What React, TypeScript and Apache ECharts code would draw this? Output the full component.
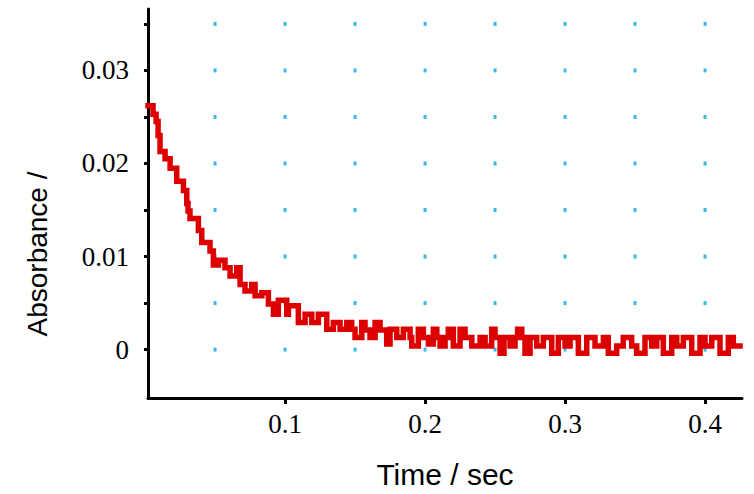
import React, { useEffect, useRef } from "react";
import * as echarts from "echarts";

// Time (s) at which each step of the trace begins
const times = [
  0.0021, 0.0057, 0.0079, 0.0093, 0.0107, 0.0143, 0.0179, 0.0226, 0.0274, 0.0298,
  0.0307, 0.0321, 0.0381, 0.0405, 0.0464, 0.0488, 0.0524, 0.0571, 0.0607, 0.0655,
  0.0679, 0.0714, 0.0762, 0.0786, 0.0834, 0.0881, 0.0917, 0.0952, 0.1012, 0.1024,
  0.1095, 0.1143, 0.1191, 0.1238, 0.1298, 0.1345, 0.1393, 0.1441, 0.1476, 0.1500,
  0.1548, 0.1571, 0.1607, 0.1643, 0.1679, 0.1726, 0.1750, 0.1798, 0.1845, 0.1893,
  0.1905, 0.1952, 0.1988, 0.2024, 0.2059, 0.2084, 0.2107, 0.2143, 0.2166, 0.2202,
  0.2250, 0.2286, 0.2334, 0.2393, 0.2429, 0.2476, 0.2500, 0.2536, 0.2564, 0.2607,
  0.2643, 0.2661, 0.2691, 0.2714, 0.2750, 0.2798, 0.2845, 0.2905, 0.2952, 0.3000,
  0.3036, 0.3095, 0.3155, 0.3214, 0.3274, 0.3309, 0.3369, 0.3416, 0.3476, 0.3512,
  0.3571, 0.3619, 0.3655, 0.3702, 0.3762, 0.3798, 0.3845, 0.3905, 0.3964, 0.4000,
  0.4048, 0.4107, 0.4166, 0.4202, 0.4250,
];

// Absorbance of each step
const absorbance = [
  0.0262, 0.0253, 0.0245, 0.0230, 0.0213, 0.0205, 0.0195, 0.0181, 0.0171, 0.0157,
  0.0149, 0.0141, 0.0128, 0.0115, 0.0106, 0.0091, 0.0096, 0.0088, 0.0079, 0.0088,
  0.0070, 0.0063, 0.0070, 0.0058, 0.0061, 0.0049, 0.0038, 0.0053, 0.0038, 0.0047,
  0.0029, 0.0038, 0.0029, 0.0038, 0.0022, 0.0029, 0.0022, 0.0029, 0.0022, 0.0013,
  0.0029, 0.0021, 0.0013, 0.0029, 0.0021, 0.0006, 0.0022, 0.0013, 0.0022, 0.0013,
  0.0004, 0.0022, 0.0013, 0.0006, 0.0022, 0.0013, 0.0004, 0.0013, 0.0022, 0.0004,
  0.0022, 0.0013, 0.0004, 0.0013, 0.0004, 0.0022, 0.0013, -0.0004, 0.0013, 0.0004,
  0.0013, 0.0022, 0.0013, -0.0004, 0.0013, 0.0004, 0.0013, -0.0004, 0.0013, 0.0004,
  0.0013, -0.0004, 0.0013, 0.0004, 0.0013, -0.0004, 0.0004, 0.0013, 0.0004, -0.0004,
  0.0013, 0.0004, 0.0013, -0.0004, 0.0013, 0.0004, 0.0013, -0.0004, 0.0013, 0.0004,
  0.0013, -0.0004, 0.0013, 0.0004, 0.0004,
];

// Axis ticks / labels
const xTickValues = [0.1, 0.2, 0.3, 0.4];
const yTickValues = [0, 0.005, 0.01, 0.015, 0.02, 0.025, 0.03, 0.035];
const yLabelValues = [0, 0.01, 0.02, 0.03];

// Dotted grid positions
const gridDotTimes = [0.05, 0.1, 0.15, 0.2, 0.25, 0.3, 0.35, 0.4];
const gridDotAbs = [0, 0.005, 0.01, 0.015, 0.02, 0.025, 0.03, 0.035];

const SERIF = '"Liberation Serif", "Times New Roman", serif';
const SANS = '"Liberation Sans", Arial, sans-serif';

export default function App() {
  const ref = useRef<HTMLDivElement>(null);

  useEffect(() => {
    document.body.style.margin = "0";
    document.body.style.overflow = "hidden";
    if (!ref.current) return;
    const chart = echarts.init(ref.current, null, { renderer: "svg" });

    const trace = times.map((t, i) => [t, absorbance[i]]);
    const dots: number[][] = [];
    gridDotTimes.forEach((t) => gridDotAbs.forEach((a) => dots.push([t, a])));

    chart.setOption({
      animation: false,
      backgroundColor: "#ffffff",
      grid: { left: 148, right: 12, top: 9, bottom: 93, containLabel: false },
      xAxis: {
        type: "value",
        min: 0.0021,
        max: 0.4264,
        name: "Time / sec",
        nameLocation: "middle",
        nameGap: 61,
        nameTextStyle: { fontFamily: SANS, fontSize: 30, color: "#000" },
        axisLine: { show: true, onZero: false, lineStyle: { color: "#000", width: 3 } },
        axisTick: {
          show: true,
          customValues: xTickValues,
          length: 6,
          inside: false,
          lineStyle: { color: "#000", width: 3 },
        },
        axisLabel: {
          customValues: xTickValues,
          margin: 12,
          fontFamily: SERIF,
          fontSize: 27,
          color: "#000",
          formatter: (v: number) => v.toFixed(1),
        },
        splitLine: { show: false },
      },
      yAxis: {
        type: "value",
        min: -0.0052,
        max: 0.0366,
        axisLine: { show: true, onZero: false, lineStyle: { color: "#000", width: 3 } },
        axisTick: {
          show: true,
          customValues: yTickValues,
          length: 4,
          inside: false,
          lineStyle: { color: "#000", width: 3 },
        },
        axisLabel: {
          customValues: yLabelValues,
          margin: 19,
          fontFamily: SERIF,
          fontSize: 27,
          color: "#000",
          formatter: (v: number) => (Math.abs(v) < 1e-9 ? "0" : v.toFixed(2)),
        },
        splitLine: { show: false },
      },
      graphic: [
        {
          type: "text",
          x: 37,
          y: 254,
          rotation: Math.PI / 2,
          style: {
            text: "Absorbance /",
            font: `28px ${SANS}`,
            fill: "#000",
            align: "center",
            verticalAlign: "middle",
            textAlign: "center",
            textVerticalAlign: "middle",
          },
        },
      ],
      series: [
        {
          type: "scatter",
          data: dots,
          symbol: "rect",
          symbolSize: [3, 4],
          itemStyle: { color: "#0aa6e4" },
          silent: true,
          z: 1,
        },
        {
          type: "line",
          data: trace,
          step: "end",
          showSymbol: false,
          symbol: "none",
          lineStyle: { color: "#dd0000", width: 5.5, cap: "square", join: "miter" },
          z: 3,
        },
      ],
    });

    return () => chart.dispose();
  }, []);

  return <div ref={ref} style={{ width: 754, height: 494 }} />;
}
